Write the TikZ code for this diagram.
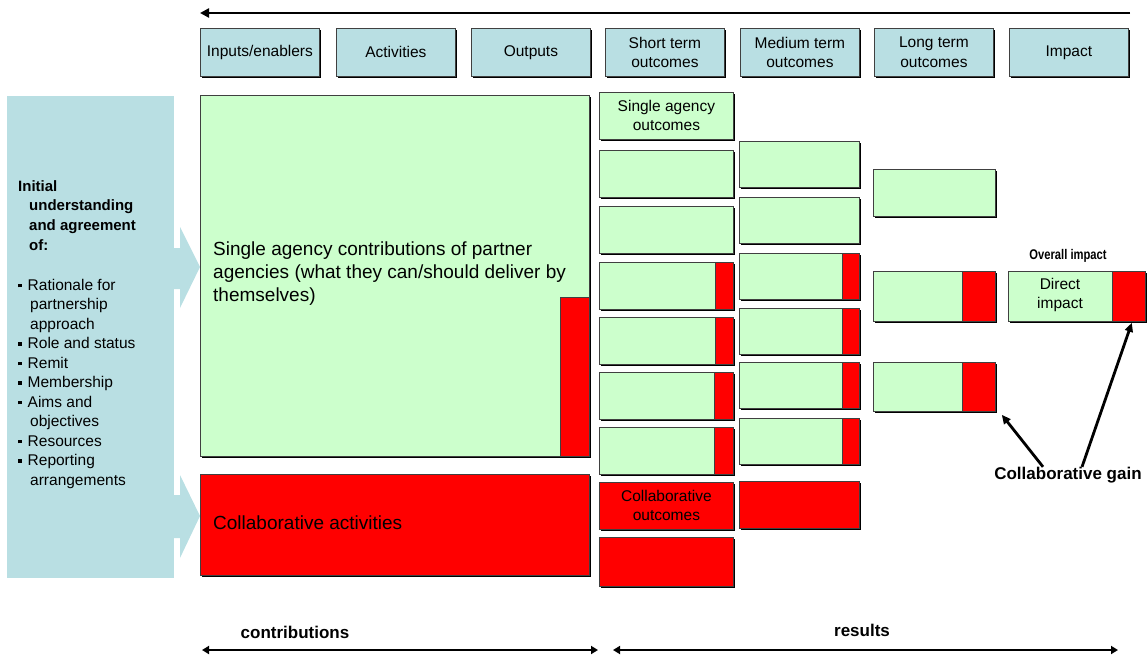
\documentclass[tikz,border=0pt]{standalone}
\usepackage{fontspec}
\setmainfont{Liberation Sans}
\usetikzlibrary{arrows.meta,shadows}
\definecolor{hblue}{HTML}{B9DFE3}
\definecolor{lgreen}{HTML}{CCFFCC}
\definecolor{bred}{HTML}{FF0000}
\definecolor{edge}{HTML}{404040}
\newcommand{\sqb}{\rule[3pt]{3.5pt}{3.5pt}\hspace{6pt}}
\tikzset{
  box/.style={draw=edge, line width=0.8pt, anchor=north west, inner sep=0pt, align=center,
    drop shadow={shadow xshift=1.5pt, shadow yshift=-2pt, fill=black, opacity=1}},
  hdr/.style={box, fill=hblue, minimum width=119, minimum height=48, font=\fontsize{15.5}{19.5}\selectfont},
  gbox/.style={box, fill=lgreen},
  rbox/.style={box, fill=bred},
  split/.style={path picture={
     \fill[bred] ([xshift=-#1]path picture bounding box.north east) rectangle (path picture bounding box.south east);
     \draw[edge, line width=0.8pt] ([xshift=-#1]path picture bounding box.north east) -- ([xshift=-#1]path picture bounding box.south east);}},
  col1/.style={minimum width=134, minimum height=47},
  col2/.style={minimum width=120, minimum height=46},
  col3/.style={minimum width=122, minimum height=48},
  fat/.style={line width=2.8pt},
  smalltxt/.style={font=\fontsize{15.5}{19}\selectfont},
  bigtxt/.style={font=\fontsize{19}{23}\selectfont},
  boldlab/.style={font=\bfseries\fontsize{17}{20}\selectfont, inner sep=0pt},
}
\begin{document}
\begin{tikzpicture}[x=1pt,y=-1pt]
\useasboundingbox (0,0) rectangle (1147,656);
% top arrow
\coordinate (ta1) at (1130,13);
\coordinate (ta2) at (200,13);
\draw[fat, -{Triangle[length=9pt,width=9pt]}] (ta1) -- (ta2);
% headers
\node[hdr] (h1) at (200,28) {Inputs/enablers};
\node[hdr] (h2) at (336,28) {Activities};
\node[hdr] (h3) at (471,28) {Outputs};
\node[hdr] (h4) at (605,28) {Short term\\outcomes};
\node[hdr] (h5) at (740,28) {Medium term\\outcomes};
\node[hdr] (h6) at (874,28) {Long term\\outcomes};
\node[hdr] (h7) at (1009,28) {Impact};
% left panel
\fill[hblue] (7,96) rectangle (174,578);
\fill[hblue] (174,248) -- (180,248) -- (180,227) -- (200,267) -- (180,308) -- (180,289) -- (174,289) -- cycle;
\fill[hblue] (174,495) -- (180,495) -- (180,475) -- (200,516) -- (180,558) -- (180,538) -- (174,538) -- cycle;
\node[anchor=north west, inner sep=0pt, align=left, font=\bfseries\fontsize{15}{19.7}\selectfont] (pt) at (18,180)
  {Initial\\\hspace*{11pt}understanding\\\hspace*{11pt}and agreement\\\hspace*{11pt}of:};
\node[anchor=north west, inner sep=0pt, align=left, font=\fontsize{15.5}{19.5}\selectfont] (pl) at (18,279)
  {\sqb Rationale for\\\hspace*{12pt}partnership\\\hspace*{12pt}approach\\
   \sqb Role and status\\\sqb Remit\\\sqb Membership\\
   \sqb Aims and\\\hspace*{12pt}objectives\\\sqb Resources\\
   \sqb Reporting\\\hspace*{12pt}arrangements};
% big boxes
\node[gbox, minimum width=389, minimum height=361] (big) at (200,95) {};
\node[anchor=north west, inner sep=0pt, align=left, bigtxt] (bigt) at (213,242)
  {Single agency contributions of partner\\agencies (what they can/should deliver by\\themselves)};
\fill[bred] (560,297) rectangle (589,456);
\draw[edge, line width=0.8pt] (560,456) -- (560,297) -- (589,297);
\node[rbox, minimum width=389, minimum height=101] (collab) at (200,474) {};
\node[anchor=west, inner sep=0pt, bigtxt] (collabt) at (213,523) {Collaborative activities};
% short-term column
\node[gbox, col1, smalltxt] (s1) at (599,92) {Single agency\\outcomes};
\node[gbox, col1] (s2) at (599,150) {};
\node[gbox, col1] (s3) at (599,206) {};
\node[gbox, col1, split=18pt] (s4) at (599,262) {};
\node[gbox, col1, split=18pt] (s5) at (599,317) {};
\node[gbox, col1, split=19pt] (s6) at (599,372) {};
\node[gbox, col1, split=19pt] (s7) at (599,427) {};
\node[rbox, col1, smalltxt] (s8) at (599,482) {Collaborative\\outcomes};
\node[rbox, col1, minimum height=49] (s9) at (599,537) {};
% medium-term column
\node[gbox, col2] (m1) at (739,141) {};
\node[gbox, col2] (m2) at (739,197) {};
\node[gbox, col2, split=17pt] (m3) at (739,253) {};
\node[gbox, col2, split=17pt] (m4) at (739,308) {};
\node[gbox, col2, split=17pt] (m5) at (739,362) {};
\node[gbox, col2, split=17pt] (m6) at (739,418) {};
\node[rbox, col2, minimum height=47] (m7) at (739,481) {};
% long-term column
\node[gbox, col3, minimum height=47] (l1) at (873,169) {};
\node[gbox, col3, minimum height=50, split=33pt] (l2) at (873,271) {};
\node[gbox, col3, minimum height=49, split=33pt] (l3) at (873,362) {};
% impact
\node[gbox, minimum width=137, minimum height=50, split=33pt] (imp) at (1008,271) {};
\node[smalltxt, align=center, inner sep=0pt] (impt) at (1060,295) {Direct\\impact};
\node[boldlab, font=\bfseries\fontsize{14}{16}\selectfont] (overall) at (1068,256) {\scalebox{0.8}[1]{Overall impact}};
\node[boldlab] (gain) at (1068,475) {Collaborative gain};
\draw[fat, -{Triangle[length=9pt,width=8pt]}] ([xshift=-25pt]gain.north) -- ([xshift=6pt,yshift=-3pt]l3.south east);
\draw[fat, -{Triangle[length=9pt,width=8pt]}] ([xshift=14pt]gain.north) -- ([xshift=-14pt,yshift=-1pt]imp.south east);
% bottom arrows
\coordinate (b1) at (202,650);
\coordinate (b2) at (598,650);
\coordinate (b3) at (613,650);
\coordinate (b4) at (1118,650);
\draw[fat, {Triangle[length=7pt,width=8pt]}-{Triangle[length=7pt,width=8pt]}] (b1) -- (b2);
\draw[fat, {Triangle[length=7pt,width=8pt]}-{Triangle[length=7pt,width=8pt]}] (b3) -- (b4);
\node[boldlab] (contr) at (295,632) {contributions};
\node[boldlab] (res) at (862,630) {results};
\end{tikzpicture}
\end{document}
